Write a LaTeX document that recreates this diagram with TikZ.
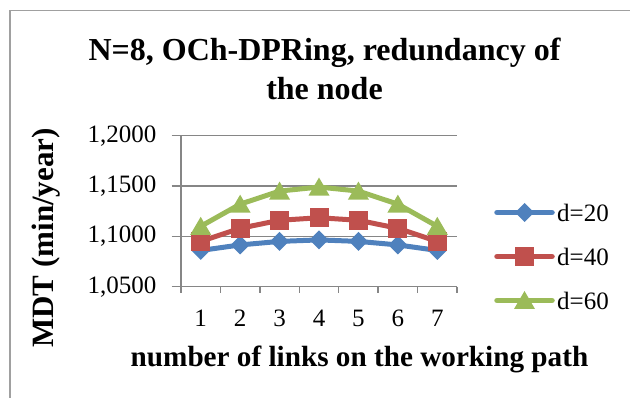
\documentclass[tikz,border=0pt]{standalone}
\usepackage{fontspec}
\setmainfont{Liberation Serif}
\definecolor{sblue}{HTML}{4F81BD}
\definecolor{sred}{HTML}{C0504D}
\definecolor{sgreen}{HTML}{9BBB59}
\definecolor{gridc}{HTML}{868686}
\definecolor{framec}{HTML}{A0A0A0}
\tikzset{
  serie/.style={line width=5pt, line cap=round, line join=round},
  legline/.style={line width=5.5pt, line cap=round},
  gridline/.style={gridc, line width=1.5pt},
  ticklab/.style={inner sep=0pt, font=\fontsize{25}{30}\selectfont},
  dmark/.pic={\fill[sblue] (0,-9.5) -- (9.5,0) -- (0,9.5) -- (-9.5,0) -- cycle;},
  smark/.pic={\fill[sred] (-9.5,-9.5) rectangle (9.5,9.5);},
  tmark/.pic={\fill[sgreen] (0,-9.5) -- (10.5,8.5) -- (-10.5,8.5) -- cycle;}
}
\begin{document}
\begin{tikzpicture}[x=1pt,y=-1pt]
\useasboundingbox (0,0) rectangle (630,398);
% frame
\draw[framec, line width=1.5pt] (10,398) -- (10,10.5) -- (630,10.5);
% title
\node[inner sep=0pt, anchor=base, font=\fontsize{32}{38}\selectfont\bfseries] (t1) at (324.5,60.5) {N=8, OCh-DPRing, redundancy of};
\node[inner sep=0pt, anchor=base, font=\fontsize{32}{38}\selectfont\bfseries] (t2) at (324.5,100) {the node};
% grid
\foreach \g/\lab in {135.7/1{,}2000, 186/1{,}1500, 236.3/1{,}1000, 286.7/1{,}0500}{
  \draw[gridline] (171.7,\g) -- (457,\g);
  \node[ticklab, anchor=east] at (156.5,\g) {\lab};
}
\draw[gridline] (181,135.7) -- (181,293);
\foreach \k in {1,...,7}{
  \draw[gridline] ({181+\k*39.43},286.7) -- ({181+\k*39.43},293);
  \node[ticklab, anchor=base] at ({181+(\k-0.5)*39.43},327) {\k};
}
% axis titles
\node[inner sep=0pt, rotate=90, anchor=base, font=\fontsize{31}{36}\selectfont\bfseries] (yl) at (53,238) {MDT (min/year)};
\node[inner sep=0pt, anchor=base, font=\fontsize{29.2}{35}\selectfont\bfseries] (xl) at (359.5,367) {number of links on the working path};
% data
\foreach \k/\v in {1/1.0860,2/1.0915,3/1.0950,4/1.0965,5/1.0950,6/1.0915,7/1.0860}
  \coordinate (b\k) at ({181+(\k-0.5)*39.43},{286.7-(\v-1.05)*1006.6});
\foreach \k/\v in {1/1.0950,2/1.1080,3/1.1160,4/1.1185,5/1.1160,6/1.1080,7/1.0950}
  \coordinate (r\k) at ({181+(\k-0.5)*39.43},{286.7-(\v-1.05)*1006.6});
\foreach \k/\v in {1/1.1100,2/1.1320,3/1.1450,4/1.1490,5/1.1450,6/1.1320,7/1.1100}
  \coordinate (g\k) at ({181+(\k-0.5)*39.43},{286.7-(\v-1.05)*1006.6});
\draw[serie, sblue] (b1) -- (b2) -- (b3) -- (b4) -- (b5) -- (b6) -- (b7);
\foreach \k in {1,...,7} \pic at (b\k) {dmark};
\draw[serie, sred] (r1) -- (r2) -- (r3) -- (r4) -- (r5) -- (r6) -- (r7);
\foreach \k in {1,...,7} \pic at (r\k) {smark};
\draw[serie, sgreen] (g1) -- (g2) -- (g3) -- (g4) -- (g5) -- (g6) -- (g7);
\foreach \k in {1,...,7} \pic at (g\k) {tmark};
% legend
\coordinate (la1) at (497,212.5); \coordinate (lb1) at (552,212.5);
\coordinate (la2) at (497,256.5); \coordinate (lb2) at (552,256.5);
\coordinate (la3) at (497,300.5); \coordinate (lb3) at (552,300.5);
\draw[legline, sblue] (la1) -- (lb1); \pic at (524.5,212.5) {dmark};
\draw[legline, sred] (la2) -- (lb2); \pic at (524.5,256.5) {smark};
\draw[legline, sgreen] (la3) -- (lb3); \pic at (524.5,300.5) {tmark};
\node[ticklab, anchor=west] (l1) at (557,212.5) {d=20};
\node[ticklab, anchor=west] (l2) at (557,256.5) {d=40};
\node[ticklab, anchor=west] (l3) at (557,300.5) {d=60};
\end{tikzpicture}
\end{document}
